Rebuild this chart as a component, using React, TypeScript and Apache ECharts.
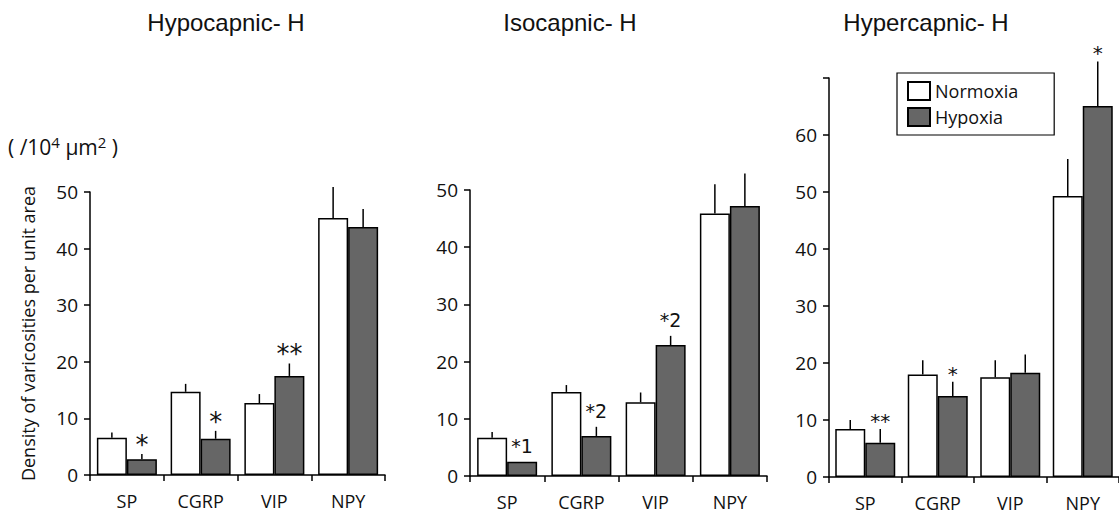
import React, { useEffect, useRef } from "react";
import * as echarts from "echarts";

const categories = ["SP", "CGRP", "VIP", "NPY"];

const panelTitles = ["Hypocapnic- H", "Isocapnic- H", "Hypercapnic- H"];
const panelMax = [50, 50, 70];

const hypoNormoxia = [6.6, 14.7, 12.7, 45.4];
const hypoNormoxiaErr = [0.9, 1.4, 1.6, 5.5];
const hypoHypoxia = [2.8, 6.4, 17.5, 43.8];
const hypoHypoxiaErr = [0.9, 1.4, 2.2, 3.2];
const hypoMarks = ["*", "*", "**", ""];

const isoNormoxia = [6.7, 14.7, 12.9, 45.9];
const isoNormoxiaErr = [1.0, 1.2, 1.7, 5.1];
const isoHypoxia = [2.5, 7.0, 22.9, 47.2];
const isoHypoxiaErr = [0, 1.6, 1.6, 5.7];
const isoMarks = ["*1", "*2", "*2", ""];

const hyperNormoxia = [8.4, 18.0, 17.5, 49.3];
const hyperNormoxiaErr = [1.6, 2.5, 3.0, 6.5];
const hyperHypoxia = [6.0, 14.2, 18.3, 65.1];
const hyperHypoxiaErr = [2.4, 2.5, 3.2, 7.8];
const hyperMarks = ["**", "*", "", "*"];

const panels = [
  { n: hypoNormoxia, ne: hypoNormoxiaErr, h: hypoHypoxia, he: hypoHypoxiaErr, marks: hypoMarks },
  { n: isoNormoxia, ne: isoNormoxiaErr, h: isoHypoxia, he: isoHypoxiaErr, marks: isoMarks },
  { n: hyperNormoxia, ne: hyperNormoxiaErr, h: hyperHypoxia, he: hyperHypoxiaErr, marks: hyperMarks },
];

const markStyle = [
  { fontSize: 26, lift: 9 },
  { fontSize: 19, lift: 16 },
  { fontSize: 20, lift: 8 },
];

const grids = [
  { left: 90, top: 192, width: 295, height: 283 },
  { left: 470, top: 190, width: 297, height: 286 },
  { left: 829, top: 78, width: 290, height: 399 },
];
const titlePos = [
  [226, 22],
  [570, 22],
  [926, 22],
];

const HYP = "#666666";
const FONT = "'Open Sans', 'DejaVu Sans', sans-serif";

function errSeries(i: number, vals: number[], errs: number[], marks: string[] | null, offset: number) {
  return {
    type: "custom",
    xAxisIndex: i,
    yAxisIndex: i,
    z: 5,
    clip: false,
    data: vals.map((v, j) => [j, v, errs[j]]),
    encode: { x: 0, y: 1 },
    renderItem: (params: any, api: any) => {
      const j = api.value(0);
      const v = api.value(1);
      const e = api.value(2);
      const p0 = api.coord([j, v]);
      const p1 = api.coord([j, v + e]);
      const x = p0[0] + offset;
      const children: any[] = [];
      if (e > 0) {
        children.push({
          type: "line",
          shape: { x1: x, y1: p0[1], x2: x, y2: p1[1] },
          style: { stroke: "#000", lineWidth: 1.5 },
        });
      }
      const m = marks ? marks[params.dataIndex] : "";
      if (m) {
        const ms = markStyle[i];
        children.push({
          type: "text",
          x: x,
          y: p1[1] - ms.lift,
          style: {
            text: m,
            fill: "#111",
            fontSize: ms.fontSize,
            fontFamily: "'DejaVu Sans', sans-serif",
            align: "center",
            verticalAlign: "middle",
          },
        });
      }
      return { type: "group", children };
    },
  };
}

export default function App() {
  const ref = useRef<HTMLDivElement>(null);
  useEffect(() => {
    if (!ref.current) return;
    const chart = echarts.init(ref.current, undefined, { renderer: "svg" });
    const series: any[] = [];
    panels.forEach((p, i) => {
      series.push({
        name: "Normoxia",
        type: "bar",
        xAxisIndex: i,
        yAxisIndex: i,
        data: p.n,
        barWidth: 30,
        barGap: "0%",
        itemStyle: { color: "#fff", borderColor: "#000", borderWidth: 1.5 },
      });
      series.push({
        name: "Hypoxia",
        type: "bar",
        xAxisIndex: i,
        yAxisIndex: i,
        data: p.h,
        barWidth: 30,
        barGap: "0%",
        itemStyle: { color: HYP, borderColor: "#000", borderWidth: 1.5 },
      });
      series.push(errSeries(i, p.n, p.ne, null, -15));
      series.push(errSeries(i, p.h, p.he, p.marks, 15));
    });

    const option: any = {
      animation: false,
      textStyle: { fontFamily: FONT },
      grid: grids,
      legend: {
        data: ["Normoxia", "Hypoxia"],
        orient: "vertical",
        icon: "rect",
        left: 897,
        top: 73,
        padding: [8, 36, 8, 10],
        itemGap: 6,
        itemWidth: 22,
        itemHeight: 18,
        borderColor: "#000",
        borderWidth: 1.2,
        textStyle: { fontSize: 18, color: "#111", fontFamily: FONT },
      },
      xAxis: grids.map((_, i) => ({
        type: "category",
        gridIndex: i,
        data: categories,
        axisLine: { lineStyle: { color: "#000", width: 1.5 } },
        axisTick: { show: true, length: 6, interval: 0, lineStyle: { color: "#000", width: 1.5 } },
        axisLabel: { color: "#111", fontSize: 18, lineHeight: 18, margin: 17, interval: 0, fontFamily: FONT },
      })),
      yAxis: grids.map((_, i) => ({
        type: "value",
        gridIndex: i,
        min: 0,
        max: panelMax[i],
        interval: 10,
        splitLine: { show: false },
        axisLine: { show: true, lineStyle: { color: "#000", width: 1.5 } },
        axisTick: { show: true, length: 6, lineStyle: { color: "#000", width: 1.5 } },
        axisLabel: {
          color: "#111",
          fontSize: 19,
          margin: 12,
          fontFamily: FONT,
          formatter: (v: number) => (i === 2 && v === 70 ? "" : String(v)),
        },
        name: i === 0 ? "Density of varicosities per unit area" : "",
        nameLocation: "middle",
        nameGap: 53,
        nameTextStyle: { fontSize: 18, color: "#111", fontFamily: FONT },
      })),
      graphic: [
        ...panelTitles.map((t, i) => ({
          type: "text",
          x: titlePos[i][0],
          y: titlePos[i][1],
          style: {
            text: t,
            fill: "#111",
            fontSize: 24,
            fontFamily: "'Liberation Sans', Arial, sans-serif",
            align: "center",
            verticalAlign: "middle",
          },
        })),
        {
          type: "text",
          x: 8,
          y: 134,
          style: {
            text: "( /10{s|4} μm{s|2} )",
            fill: "#111",
            fontSize: 21,
            lineHeight: 26,
            fontFamily: FONT,
            rich: {
              s: { fontSize: 15, lineHeight: 26, verticalAlign: "top", fontFamily: FONT, fill: "#111" },
            },
          },
        },
      ],
      series,
    };
    chart.setOption(option);
    return () => chart.dispose();
  }, []);
  return (
    <div
      ref={ref}
      style={{ position: "fixed", left: 0, top: 0, width: 1119, height: 516, background: "#fff" }}
    />
  );
}
